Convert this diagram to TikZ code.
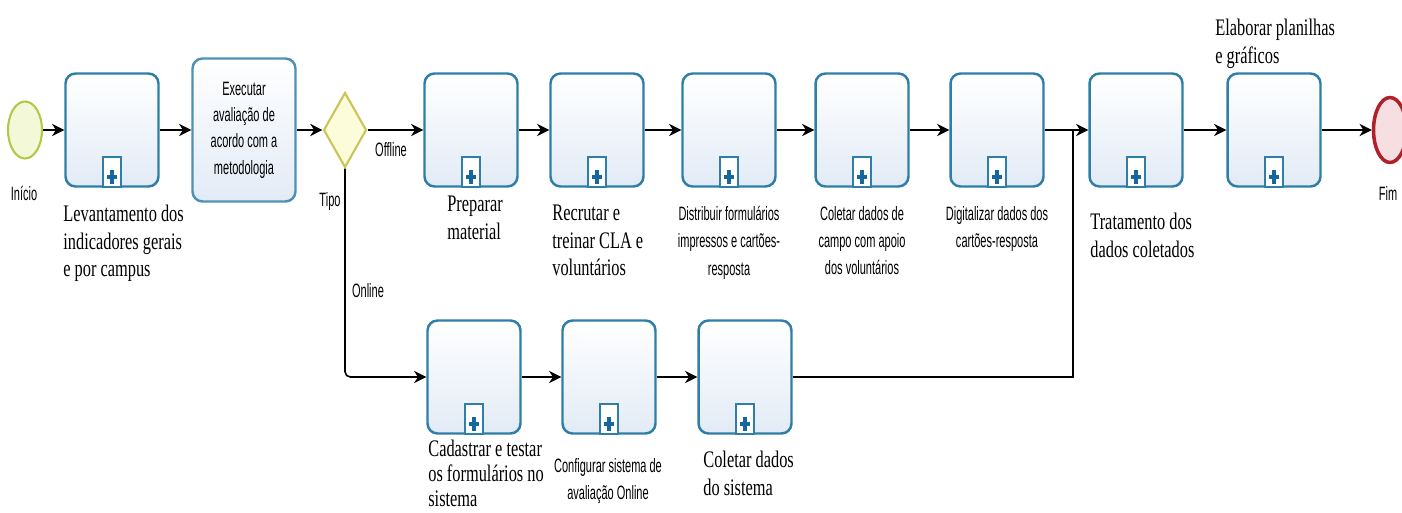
\documentclass[tikz,border=0pt]{standalone}
\usepackage{fontspec}
\setmainfont{Liberation Serif}
\newfontfamily\lblserif[FakeStretch=0.69]{Liberation Serif}
\newfontfamily\lblsans[FakeStretch=0.57]{Liberation Sans}
\usetikzlibrary{arrows.meta}
\usetikzlibrary{shapes.geometric}
\definecolor{taskblue}{RGB}{46,126,168}
\definecolor{taskfill}{RGB}{226,235,246}
\definecolor{startline}{RGB}{176,202,72}
\definecolor{startfill}{RGB}{243,248,216}
\definecolor{gateline}{RGB}{200,198,88}
\definecolor{gatefill}{RGB}{252,252,218}
\definecolor{endline}{RGB}{176,32,42}
\definecolor{endfill}{RGB}{247,222,224}
\definecolor{plusblue}{RGB}{22,104,156}

\begin{document}
\begin{tikzpicture}[x=0.02cm,y=-0.02cm]
		\tikzset{task/.style = {shape=rectangle, rounded corners=0.2cm, draw=taskblue, line width=1.4pt, top color=white, bottom color=taskfill, minimum width=1.86cm, minimum height=2.26cm, inner sep=0pt}}
		\tikzset{submark/.style = {shape=rectangle, draw=taskblue, line width=0.9pt, fill=white, minimum width=0.36cm, minimum height=0.6cm, inner sep=0pt, anchor=south}}
		\tikzset{plus/.style = {draw=plusblue, line width=2.2pt}}
		\tikzset{startev/.style = {shape=ellipse, draw=startline, line width=1.2pt, fill=startfill, minimum width=0.68cm, minimum height=1.14cm, inner sep=0pt}}
		\tikzset{endev/.style = {shape=ellipse, draw=endline, line width=2pt, fill=endfill, minimum width=0.66cm, minimum height=1.3cm, inner sep=0pt}}
		\tikzset{gateway/.style = {shape=diamond, draw=gateline, line width=1.2pt, fill=gatefill, minimum width=0.86cm, minimum height=1.5cm, inner sep=0pt}}
		\tikzset{edge/.style = {-{Stealth[length=7pt,width=7pt]}, line width=0.9pt}}
		\tikzset{serif label/.style = {font=\lblserif\fontsize{13.5}{15.5}\selectfont, align=left, inner sep=0pt, anchor=north west}}
		\tikzset{sans label/.style = {font=\lblsans\fontsize{11}{15.5}\selectfont, align=center, inner sep=0pt}}
		\useasboundingbox (0,0) rectangle (1402,513);
		% vertices
		\node[startev] (ini) at (25,130) {};
		\node[task] (lev) at (112,130) {};
		\node[task, minimum width=2.06cm, minimum height=2.86cm, draw=taskblue!85, font=\lblsans\fontsize{11}{15}\selectfont, align=center] (exe) at (244,130) {Executar\\avaliação de\\acordo com a\\metodologia};
		\node[gateway] (tipo) at (345,130) {};
		\node[task] (prep) at (471,130) {};
		\node[task] (recr) at (597,130) {};
		\node[task] (dist) at (729,130) {};
		\node[task] (camp) at (862,130) {};
		\node[task] (digi) at (997,130) {};
		\node[task] (trat) at (1136,130) {};
		\node[task] (elab) at (1274,130) {};
		\node[endev] (fim) at (1390,130) {};
		
		\node[task] (cad) at (474,377) {};
		\node[task] (conf) at (609,377) {};
		\node[task] (sist) at (745,377) {};
		
		\coordinate (jn) at (1073,130);
		
		\foreach \t in {lev,prep,recr,dist,camp,digi,trat,elab,cad,conf,sist}{
			\node[submark] (\t-sub) at (\t.south) {};
			\draw[plus] (\t-sub.center) ++(0,-2) -- ++(0,14) (\t-sub.center) ++(-5,5) -- ++(10,0);
		}
		
		%edges
		\draw[edge] (ini) -- (lev);
		\draw[edge] (lev) -- (exe);
		\draw[edge] (exe) -- (tipo);
		\draw[edge] (tipo) -- (prep);
		\draw[edge] (prep) -- (recr);
		\draw[edge] (recr) -- (dist);
		\draw[edge] (dist) -- (camp);
		\draw[edge] (camp) -- (digi);
		\draw[edge] (digi) -- (trat);
		\draw[edge] (trat) -- (elab);
		\draw[edge] (elab) -- (fim);
		
		\draw[edge, rounded corners=3pt] (tipo.south) |- (cad.west);
		\draw[edge] (cad) -- (conf);
		\draw[edge] (conf) -- (sist);
		\draw[line width=0.9pt] (sist.east) -| (jn);
		
		% labels
		\node[sans label] (ini-lbl) at (24,193) {Início};
		\node[sans label] (fim-lbl) at (1388,193) {Fim};
		\node[sans label] (tipo-lbl) at (330,202) {Tipo};
		\node[sans label] (off-lbl) at (391,150) {Offline};
		\node[sans label] (on-lbl) at (368,291) {Online};
		
		\node[serif label] (lev-lbl) at (63,205) {Levantamento dos\\indicadores gerais\\e por campus};
		\node[serif label] (prep-lbl) at (447,196) {Preparar\\material};
		\node[serif label] (recr-lbl) at (552,205) {Recrutar e\\treinar CLA e\\voluntários};
		\node[sans label, anchor=north] (dist-lbl) at (729,206) {Distribuir formulários\\impressos e cartões-\\resposta};
		\node[sans label, anchor=north] (camp-lbl) at (862,206) {Coletar dados de\\campo com apoio\\dos voluntários};
		\node[sans label, anchor=north] (digi-lbl) at (997,206) {Digitalizar dados dos\\cartões-resposta};
		\node[serif label] (trat-lbl) at (1090,213) {Tratamento dos\\dados coletados};
		\node[serif label] (elab-lbl) at (1215,19) {Elaborar planilhas\\e gráficos};
		
		\node[serif label, font=\lblserif\fontsize{13.5}{14}\selectfont] (cad-lbl) at (428,440) {Cadastrar e testar\\os formulários no\\sistema};
		\node[sans label, anchor=north] (conf-lbl) at (608,458) {Configurar sistema de\\avaliação Online};
		\node[serif label] (sist-lbl) at (703,451) {Coletar dados\\do sistema};
		
\end{tikzpicture}
\end{document}
